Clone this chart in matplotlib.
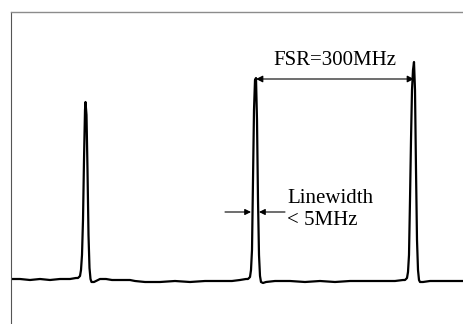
"""
Fabry-Perot scan trace: three transmission peaks, FSR and linewidth marks
"""
import numpy as np
import matplotlib.pyplot as plt

plt.rcParams["font.family"] = ["Liberation Serif", "DejaVu Serif"]

# scan position (a.u.) and detector signal (a.u.)
base1_x = [11, 20, 30, 40, 50, 60, 70, 76]
base1_y = [45, 45, 44, 45, 44, 45, 45, 46]
peak1_x = [78, 80, 81, 82, 83, 84, 85, 85.5, 86.5, 87.5, 88.5, 89.5, 90.5, 91.5, 94, 96]
peak1_y = [46, 48, 54, 69, 104, 164, 214, 222, 209, 154, 89, 56, 45, 42, 42, 43]
base2_x = [100, 106, 112, 120, 130, 135, 145, 160, 175, 190, 205, 220, 232, 240, 246]
base2_y = [45, 45, 44, 44, 44, 43, 42, 42, 43, 42, 43, 43, 43, 44, 45]
peak2_x = [248, 250, 251, 252, 253, 254, 255, 256, 257, 258, 259, 260, 261, 263, 266]
peak2_y = [45, 47, 54, 74, 144, 214, 244, 246, 204, 124, 69, 48, 42, 41, 42]
base3_x = [275, 290, 305, 320, 335, 350, 365, 380, 395, 403]
base3_y = [43, 43, 42, 43, 42, 43, 43, 43, 43, 44]
peak3_x = [405, 407, 408, 409, 410, 411, 412, 413, 414, 415, 416, 417, 418, 419, 420, 423]
peak3_y = [44, 46, 52, 69, 124, 184, 234, 254, 262, 234, 154, 84, 54, 44, 42, 42]
base4_x = [430, 440, 450, 463]
base4_y = [43, 43, 43, 43]

fsr_label = "FSR=300MHz"
lw_label = ["Linewidth", "< 5MHz"]

x = np.concatenate([base1_x, peak1_x, base2_x, peak2_x, base3_x, peak3_x, base4_x])
y = np.concatenate([base1_y, peak1_y, base2_y, peak2_y, base3_y, peak3_y, base4_y])

fig = plt.figure(figsize=(4.63, 3.24), dpi=100)
ax = fig.add_axes([11 / 463, 0, 452 / 463, 312 / 324])
ax.plot(x, y, color="black", lw=1.6, solid_joinstyle="round")
ax.set_xlim(11, 463)
ax.set_ylim(0, 312)

for s in ("right", "bottom"):
    ax.spines[s].set_visible(False)
ax.spines["top"].set_color("#8c8c8c")
ax.spines["top"].set_linewidth(1.0)
ax.spines["left"].set_color("#555555")
ax.spines["left"].set_linewidth(0.8)
ax.set_xticks([]); ax.set_yticks([])

# free spectral range between peak 2 and peak 3
p2 = peak2_x[int(np.argmax(peak2_y))]
p3 = peak3_x[int(np.argmax(peak3_y))]
ax.annotate("", xy=(p2, 245), xytext=(p3, 245),
            arrowprops=dict(arrowstyle="<|-|>", color="black", lw=0.8,
                            mutation_scale=10, shrinkA=0, shrinkB=0))
ax.text((p2 + p3) / 2, 259, fsr_label, ha="center", va="baseline", fontsize=15)

# linewidth marks on peak 2
ax.annotate("", xy=(251, 112), xytext=(225, 112),
            arrowprops=dict(arrowstyle="-|>", color="black", lw=0.8,
                            mutation_scale=9, shrinkA=0, shrinkB=0))
ax.annotate("", xy=(259, 112), xytext=(285, 112),
            arrowprops=dict(arrowstyle="-|>", color="black", lw=0.8,
                            mutation_scale=9, shrinkA=0, shrinkB=0))
ax.text(287, 121, lw_label[0], ha="left", va="baseline", fontsize=15)
ax.text(287, 99, lw_label[1], ha="left", va="baseline", fontsize=15)

plt.savefig("out.png", dpi=100)
plt.close()
